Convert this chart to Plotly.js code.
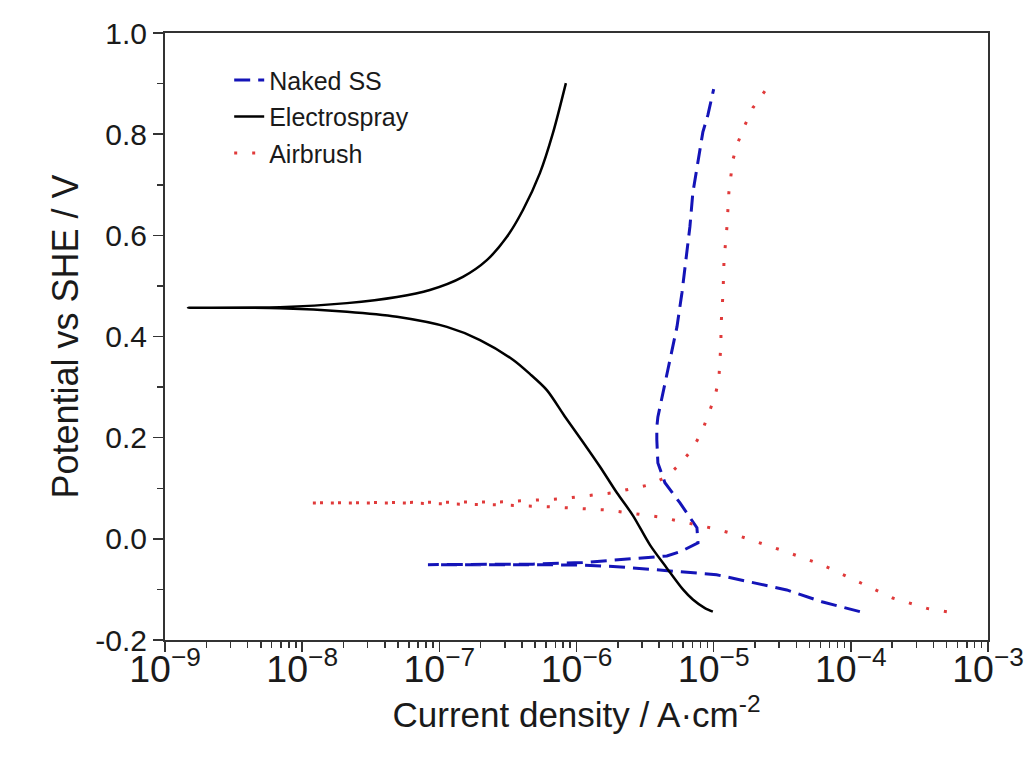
<!DOCTYPE html>
<html>
<head>
<meta charset="utf-8">
<script src="https://cdn.plot.ly/plotly-3.0.1.min.js"></script>
<style>html,body{margin:0;padding:0;background:#fff;}#chart{width:1029px;height:759px;}</style>
</head>
<body>
<div id="chart"></div>
<script>
// Series names
const seriesNames = ["Naked SS", "Electrospray", "Airbrush"];

// Naked SS: current density (A/cm2) and potential (V vs SHE)
const nakedJ = [1.164e-4, 6.25e-5, 3.41e-5, 1.84e-5, 1.05e-5, 5.68e-6, 1.97e-6, 1.11e-6, 4.81e-7, 8.26e-8,
  4.81e-7, 1.11e-6, 2.58e-6, 4.56e-6, 5.87e-6, 7.69e-6, 7.55e-6, 5.68e-6, 4.41e-6, 3.92e-6, 3.85e-6,
  3.85e-6, 3.92e-6, 4.27e-6, 4.80e-6, 5.40e-6, 5.87e-6, 6.27e-6, 6.71e-6, 7.05e-6, 7.69e-6, 8.34e-6, 9.08e-6, 1.00e-5];
const nakedE = [-0.144, -0.125, -0.101, -0.085, -0.071, -0.065, -0.055, -0.052, -0.051, -0.051,
  -0.050, -0.047, -0.040, -0.034, -0.024, -0.008, 0.022, 0.071, 0.111, 0.150, 0.196,
  0.221, 0.241, 0.289, 0.354, 0.419, 0.486, 0.551, 0.617, 0.684, 0.749, 0.804, 0.838, 0.889];

// Electrospray
const esJ = [9.86e-6, 8.63e-6, 7.05e-6, 5.97e-6, 4.56e-6, 3.43e-6, 2.58e-6, 1.97e-6, 1.48e-6, 1.11e-6, 8.22e-7, 6.08e-7,
  4.57e-7, 3.44e-7, 1.98e-7, 1.135e-7, 4.91e-8, 2.12e-8, 6.89e-9, 1.47e-9,
  6.89e-9, 2.12e-8, 4.91e-8, 8.53e-8, 1.486e-7, 2.22e-7, 3.11e-7, 4.07e-7, 5.41e-7, 6.73e-7, 8.37e-7];
const esE = [-0.144, -0.137, -0.120, -0.100, -0.058, -0.012, 0.046, 0.091, 0.143, 0.192, 0.242, 0.294,
  0.326, 0.354, 0.393, 0.419, 0.439, 0.449, 0.456, 0.457,
  0.458, 0.466, 0.478, 0.492, 0.518, 0.551, 0.597, 0.650, 0.723, 0.802, 0.901];

// Airbrush
const abJ = [5.01e-4, 3.64e-4, 2.02e-4, 1.106e-4, 6.15e-5, 3.41e-5, 1.84e-5, 1.38e-5, 1.02e-5, 7.55e-6, 5.48e-6, 4.06e-6,
  1.67e-6, 6.73e-7, 2.77e-7, 5.16e-8, 1.12e-8,
  5.16e-8, 2.77e-7, 7.57e-7, 1.84e-6, 3.43e-6, 4.56e-6, 5.68e-6, 6.93e-6, 8.20e-6, 9.08e-6, 1.02e-5, 1.09e-5,
  1.11e-5, 1.13e-5, 1.13e-5, 1.17e-5, 1.19e-5, 1.25e-5, 1.29e-5, 1.38e-5, 1.50e-5, 1.69e-5, 1.93e-5, 2.36e-5];
const abE = [-0.144, -0.138, -0.117, -0.083, -0.051, -0.026, -0.002, 0.010, 0.020, 0.028, 0.036, 0.043,
  0.057, 0.063, 0.067, 0.071, 0.071,
  0.072, 0.073, 0.079, 0.091, 0.107, 0.123, 0.148, 0.176, 0.211, 0.245, 0.281, 0.314,
  0.354, 0.387, 0.419, 0.486, 0.551, 0.617, 0.684, 0.749, 0.783, 0.818, 0.852, 0.885];

// Y tick labels
const yTickVals = [-0.2, 0.0, 0.2, 0.4, 0.6, 0.8, 1.0];
const yTickText = ["-0.2", "0.0", "0.2", "0.4", "0.6", "0.8", "1.0"];

const xTitle = "Current density / A·cm<sup>-2</sup>";
const yTitle = "Potential vs SHE / V";

const font = "Liberation Sans, Arial, sans-serif";

const traces = [
  {x: nakedJ, y: nakedE, name: seriesNames[0], mode: "lines", legendgroup: "a",
   line: {color: "#1414b8", width: 3, dash: "16px,8px"}},
  {x: esJ, y: esE, name: seriesNames[1], mode: "lines", legendgroup: "b",
   line: {color: "#000000", width: 2.5, shape: "spline", smoothing: 0.8}},
  {x: abJ, y: abE, name: seriesNames[2], mode: "lines", legendgroup: "c",
   line: {color: "#e03a3a", width: 3, dash: "3px,15px"}}
];

const layout = {
  width: 1029, height: 759,
  margin: {l: 165, r: 41, t: 33, b: 119},
  paper_bgcolor: "#fff", plot_bgcolor: "#fff",
  font: {family: font, size: 25, color: "#1a1a1a"},
  showlegend: true,
  legend: {x: 0.078, y: 0.96, xanchor: "left", yanchor: "top", bgcolor: "rgba(0,0,0,0)",
           font: {family: font, size: 25, color: "#1a1a1a"}, tracegroupgap: 1, traceorder: "grouped"},
  xaxis: {
    type: "log", range: [-9, -3], dtick: 1, exponentformat: "power", showexponent: "all",
    showline: true, linecolor: "#333", linewidth: 2, mirror: true,
    ticks: "outside", ticklen: 10, tickwidth: 1.5, tickcolor: "#333",
    ticklabelstandoff: -14,
    showgrid: false, zeroline: false,
    tickfont: {family: font, size: 30, color: "#1a1a1a"},
    minor: {dtick: "D1", ticks: "outside", ticklen: 6, tickwidth: 1.5, tickcolor: "#333", showgrid: false},
    title: {text: xTitle, font: {family: font, size: 35, color: "#1a1a1a"}, standoff: 14}
  },
  yaxis: {
    range: [-0.2, 1.0], tickmode: "array", tickvals: yTickVals, ticktext: yTickText,
    showline: true, linecolor: "#333", linewidth: 2, mirror: true,
    ticks: "outside", ticklen: 10, tickwidth: 1.5, tickcolor: "#333",
    showgrid: false, zeroline: false,
    tickfont: {family: font, size: 30, color: "#1a1a1a"},
    minor: {dtick: 0.1, tick0: 0, ticks: "outside", ticklen: 6, tickwidth: 1.5, tickcolor: "#333", showgrid: false},
    title: {text: yTitle, font: {family: font, size: 36, color: "#1a1a1a"}, standoff: 6}
  }
};

Plotly.newPlot("chart", traces, layout, {staticPlot: true});
</script>
</body>
</html>
